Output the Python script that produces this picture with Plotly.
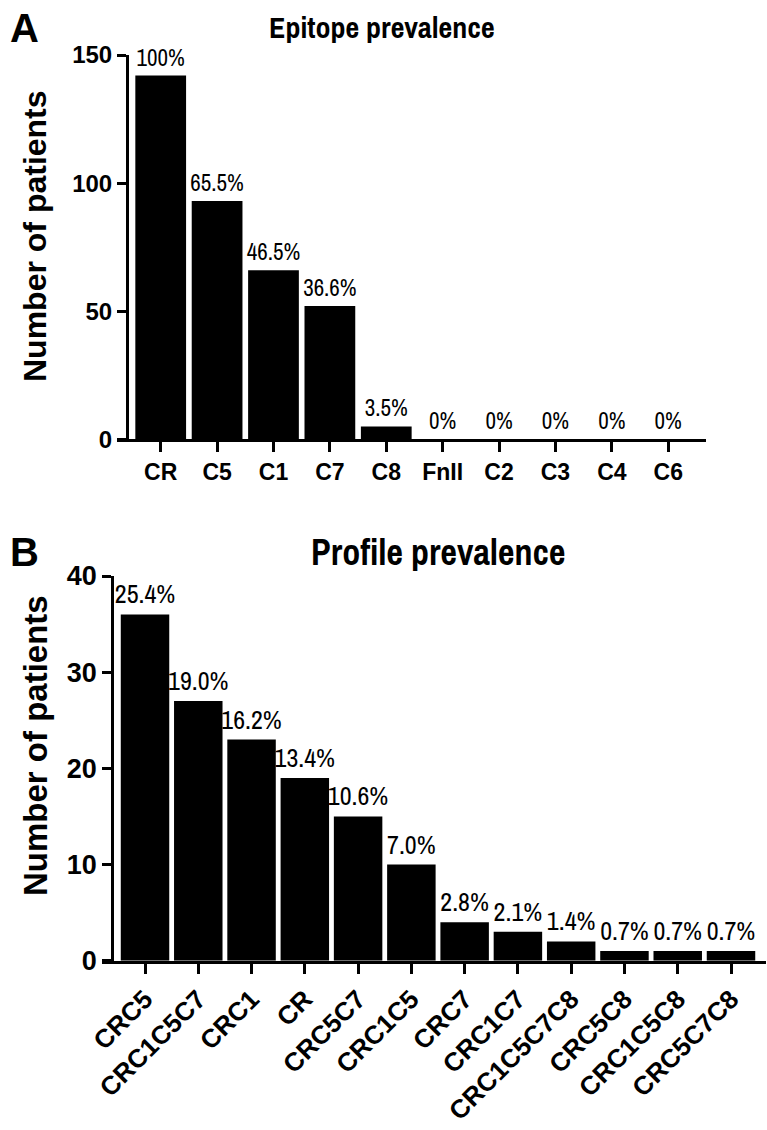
import plotly.graph_objects as go

W, H = 767, 1130

# ---- data ----
epi_cats = ["CR", "C5", "C1", "C7", "C8", "FnII", "C2", "C3", "C4", "C6"]
epi_counts = [142, 93, 66, 52, 5, 0, 0, 0, 0, 0]
epi_pct = ["100%", "65.5%", "46.5%", "36.6%", "3.5%", "0%", "0%", "0%", "0%", "0%"]

prof_cats = ["CRC5", "CRC1C5C7", "CRC1", "CR", "CRC5C7", "CRC1C5", "CRC7",
             "CRC1C7", "CRC1C5C7C8", "CRC5C8", "CRC1C5C8", "CRC5C7C8"]
prof_counts = [36, 27, 23, 19, 15, 10, 4, 3, 2, 1, 1, 1]
prof_pct = ["25.4%", "19.0%", "16.2%", "13.4%", "10.6%", "7.0%", "2.8%",
            "2.1%", "1.4%", "0.7%", "0.7%", "0.7%"]

epi_ticks = [0, 50, 100, 150]
prof_ticks = [0, 10, 20, 30, 40]

NARROW = "Archivo Narrow, Liberation Sans Narrow, Roboto Condensed, sans-serif"
SANS = "Liberation Sans, Arial, sans-serif"


def px(x):
    return x / W


def py(y):
    return 1 - y / H


fig = go.Figure()

fig.add_trace(go.Bar(
    x=epi_cats, y=epi_counts, text=epi_pct, textposition="outside",
    cliponaxis=False, constraintext="none", width=0.9,
    marker=dict(color="black", line=dict(width=0)),
    textfont=dict(family=NARROW, size=23, color="black"),
    xaxis="x", yaxis="y", showlegend=False, hoverinfo="skip",
))

fig.add_trace(go.Bar(
    x=prof_cats, y=prof_counts, text=prof_pct, textposition="outside",
    cliponaxis=False, constraintext="none", width=0.91,
    marker=dict(color="black", line=dict(width=0)),
    textfont=dict(family=NARROW, size=26, color="black"),
    xaxis="x2", yaxis="y2", showlegend=False, hoverinfo="skip",
))

axis_common = dict(showline=True, linecolor="black", linewidth=3,
                   ticks="outside", tickcolor="black", tickwidth=3,
                   showgrid=False, zeroline=False, automargin=False)

fig.update_layout(
    width=W, height=H,
    margin=dict(l=0, r=0, t=0, b=0),
    paper_bgcolor="white", plot_bgcolor="white",
    xaxis=dict(domain=[px(117), px(706)], range=[-0.775, 9.67], anchor="y",
               type="category", ticklen=10,
               tickfont=dict(family=SANS, size=23, color="black", weight="bold"),
               **axis_common),
    yaxis=dict(domain=[py(439.3), py(55)], range=[0, 150], anchor="free",
               position=px(127), tickvals=epi_ticks, ticklen=9,
               tickfont=dict(family=SANS, size=24, color="black", weight="bold"),
               **axis_common),
    xaxis2=dict(domain=[px(101.7), px(766)], range=[-0.813, 11.657], anchor="y2",
                type="category", ticklen=10, tickangle=-45,
                tickfont=dict(family=SANS, size=26, color="black", weight="bold"),
                **axis_common),
    yaxis2=dict(domain=[py(960.7), py(576)], range=[0, 40], anchor="free",
                position=px(112.3), tickvals=prof_ticks, ticklen=9,
                tickfont=dict(family=SANS, size=27, color="black", weight="bold"),
                **axis_common),
)

annos = [
    dict(text="<b>A</b>", x=px(24), y=py(28), font=dict(family=SANS, size=40)),
    dict(text="<b>B</b>", x=px(24), y=py(552), font=dict(family=SANS, size=40)),
    dict(text="<b>Epitope prevalence</b>", x=px(382), y=py(27), font=dict(family=NARROW, size=30)),
    dict(text="<b>Profile prevalence</b>", x=px(438), y=py(552), font=dict(family=NARROW, size=36)),
    dict(text="<b>Number of patients</b>", x=px(35), y=py(236), textangle=-90,
         font=dict(family=SANS, size=32)),
    dict(text="<b>Number of patients</b>", x=px(35), y=py(746), textangle=-90,
         font=dict(family=SANS, size=33)),
]
for a in annos:
    a.setdefault("font", {})
    a["font"]["color"] = "black"
    fig.add_annotation(xref="paper", yref="paper", showarrow=False,
                       xanchor="center", yanchor="middle", **a)

fig.write_html("out.html")
